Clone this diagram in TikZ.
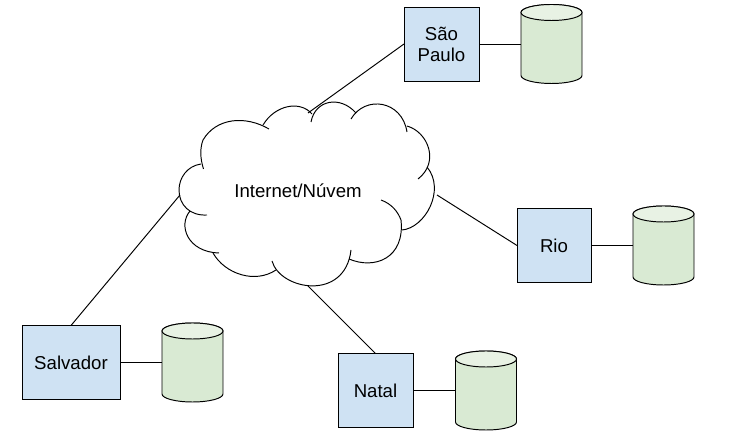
\documentclass[tikz,border=0pt]{standalone}
\usepackage{fontspec}
\setmainfont{Liberation Sans}
\usetikzlibrary{calc}

\definecolor{boxblue}{HTML}{CFE2F3}
\definecolor{dbgreen}{HTML}{D9EAD3}
\definecolor{dbtop}{HTML}{E8F2E4}

\tikzset{
  site/.style={rectangle,draw,fill=boxblue,outer sep=0pt,inner sep=0pt,align=center,minimum height=74*0.02cm},
  db/.style={rectangle,outer sep=0pt,inner sep=0pt,minimum width=61*0.02cm,minimum height=79*0.02cm},
  lobe/.style={line width=0.55pt}
}

\begin{document}
\begin{tikzpicture}[x=0.02cm,y=-0.02cm,line width=0.55pt,font=\fontsize{10.6}{12}\selectfont]

\useasboundingbox (0,0) rectangle (730,448);

\node(net) at (298,190.5) {Internet/Núvem};
\node(sp) at (441.5,44)[site,minimum width=75*0.02cm] {São\\Paulo};
\node(rio) at (554,245.5)[site,minimum width=74*0.02cm] {Rio};
\node(salvador) at (71,362.5)[site,minimum width=98*0.02cm] {Salvador};
\node(natal) at (375.5,390.5)[site,minimum width=75*0.02cm] {Natal};
\node(dbsp) at (551.5,44)[db] {};
\node(dbrio) at (663.5,245.5)[db] {};
\node(dbsalvador) at (192.5,362.5)[db] {};
\node(dbnatal) at (486,390.5)[db] {};

\coordinate(c1) at (308,113);
\coordinate(c2) at (437,195);
\coordinate(c3) at (180,195);
\coordinate(c4) at (308,286);

\draw (c1) -- (sp.west);
\draw (c2) -- (rio.west);
\draw (c3) -- (salvador.north);
\draw (c4) -- (natal.north);
\draw (sp) -- (dbsp);
\draw (rio) -- (dbrio);
\draw (salvador) -- (dbsalvador);
\draw (natal) -- (dbnatal);

% database cylinders
\foreach \n in {dbsp,dbrio,dbsalvador,dbnatal}{
  \draw[fill=dbgreen] ($(\n.north west)+(0,8)$) -- ($(\n.south west)+(0,-8)$)
    arc[start angle=180,end angle=360,x radius=0.61cm,y radius=0.16cm]
    -- ($(\n.north east)+(0,8)$)
    arc[start angle=0,end angle=180,x radius=0.61cm,y radius=0.16cm] -- cycle;
  \draw[fill=dbtop] ($(\n.north)+(0,8)$) ellipse[x radius=0.61cm,y radius=0.16cm];
}

% cloud lobes
\draw[lobe] (269,129) .. controls (245,115) and (216,118) .. (203,140) .. controls (200,148) and (200,158) .. (203.5,169);
\draw[lobe] (201,164) .. controls (187,166) and (179,178) .. (179,190) .. controls (179,205) and (190,216) .. (207,215);
\draw[lobe] (190,211) .. controls (178,225) and (187,252) .. (219,253);
\draw[lobe] (213,253) .. controls (225,274) and (255,284) .. (276,270);
\draw[lobe] (272,261) .. controls (280,290) and (345,302) .. (351,250);
\draw[lobe] (349,259) .. controls (375,270) and (405,258) .. (401,220) .. controls (398,212) and (392,204) .. (381,200);
\draw[lobe] (402,230) .. controls (425,228) and (446,190) .. (427,167);
\draw[lobe] (418,179) .. controls (440,162) and (428,132) .. (407,126);
\draw[lobe] (407,132) .. controls (402,100) and (365,95) .. (351,119);
\draw[lobe] (356,113) .. controls (340,95) and (315,100) .. (311,122);
\draw[lobe] (312,114) .. controls (300,100) and (275,105) .. (263,125);

\end{tikzpicture}
\end{document}
